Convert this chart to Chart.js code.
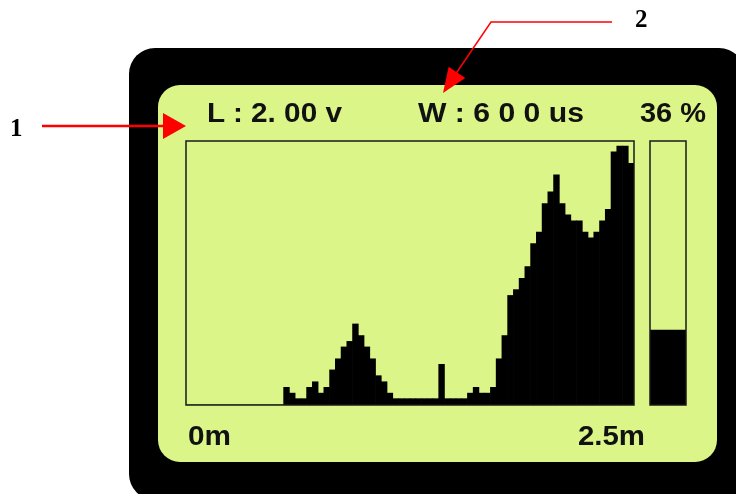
<!DOCTYPE html>
<html>
<head>
<meta charset="utf-8">
<script src="https://cdn.jsdelivr.net/npm/chart.js@4"></script>
<style>
  html, body { margin:0; padding:0; background:#fff; }
  #wrap { position:relative; width:736px; height:494px; overflow:hidden; background:#fff; }
  #frame { position:absolute; left:129px; top:48px; width:616px; height:452px; background:#000; border-radius:26px; }
  #screen { position:absolute; left:158px; top:85px; width:559px; height:377px; background:#dcf588; border-radius:22px; }
  #hist { position:absolute; left:184px; top:139px; }
  #level { position:absolute; left:648px; top:139px; }
  #overlay { position:absolute; left:0; top:0; }
</style>
</head>
<body>
<div id="wrap">
  <div id="frame"></div>
  <div id="screen"></div>
  <canvas id="hist" width="452" height="268"></canvas>
  <canvas id="level" width="40" height="268"></canvas>
  <svg id="overlay" width="736" height="494" xmlns="http://www.w3.org/2000/svg"></svg>
</div>
<script>
// ---- data ----
const bins = Array.from({length: 78}, (_, i) => String(i)); // histogram bins (0m .. 2.5m)
const histValues = [
  0,0,0,0,0,0,0,0,0,0,0,0,0,0,0,0,0,
  6.7,4.5,2.4,2.4,6.7,8.8,4.5,6.7,13.3,17.5,22,24.1,30.7,26.3,22,17.5,11.1,8.8,4.5,
  2.4,2.4,2.4,2.4,2.4,2.4,2.4,2.4,
  15.4,
  2.4,2.4,2.4,2.4,
  4.5,6.7,4.5,4.5,6.7,17.5,26.3,41.5,43.7,48,52.4,61.1,65.5,76.3,80.7,87.2,76.3,72,69.8,69.8,65.5,63.3,65.5,69.8,74.1,95.9,98.1,98.1,91.5
];
const levelLabel = ["level"];
const levelValue = [28.4];
const headerTexts = ["L : 2. 00 v", "W : 6 0 0 us", "36 %"];
const xTickLabels = ["0m", "2.5m"];
const calloutLabels = ["1", "2"];

// ---- plot border plugin ----
const borderPlugin = {
  id: 'plotBorder',
  afterDatasetsDraw(chart) {
    const a = chart.chartArea, ctx = chart.ctx;
    ctx.save();
    ctx.strokeStyle = '#1a1a1a';
    ctx.lineWidth = 1.5;
    ctx.strokeRect(a.left, a.top, a.right - a.left, a.bottom - a.top);
    ctx.restore();
  }
};

const commonOpts = {
  responsive: false,
  animation: false,
  devicePixelRatio: 1,
  layout: { padding: 2 },
  plugins: { legend: { display: false }, tooltip: { enabled: false }, title: { display: false } },
  scales: {
    x: { display: false, grid: { display: false } },
    y: { display: false, min: 0, max: 100, grid: { display: false } }
  }
};

new Chart(document.getElementById('hist'), {
  type: 'bar',
  data: {
    labels: bins,
    datasets: [{ data: histValues, backgroundColor: '#000', borderWidth: 0,
      barPercentage: 1, categoryPercentage: 1 }]
  },
  options: commonOpts,
  plugins: [borderPlugin]
});

new Chart(document.getElementById('level'), {
  type: 'bar',
  data: {
    labels: levelLabel,
    datasets: [{ data: levelValue, backgroundColor: '#000', borderWidth: 0,
      barPercentage: 1, categoryPercentage: 1 }]
  },
  options: commonOpts,
  plugins: [borderPlugin]
});

// ---- overlay: texts and callout arrows ----
const svg = document.getElementById('overlay');
const NS = 'http://www.w3.org/2000/svg';
function el(name, attrs, text) {
  const e = document.createElementNS(NS, name);
  for (const k in attrs) e.setAttribute(k, attrs[k]);
  if (text !== undefined) e.textContent = text;
  svg.appendChild(e);
  return e;
}
const sans = "'Liberation Sans', Arial, sans-serif";
const serif = "'Liberation Serif', 'Times New Roman', serif";
const hdr = [[207, 135], [418, 166], [640, 66]];
headerTexts.forEach((t, i) => {
  el('text', { x: hdr[i][0], y: 122, 'font-family': sans, 'font-weight': 'bold', 'font-size': 27,
    fill: '#111', textLength: hdr[i][1], lengthAdjust: 'spacingAndGlyphs', 'xml:space': 'preserve' }, t);
});
const ticks = [[188, 43], [578, 67]];
xTickLabels.forEach((t, i) => {
  el('text', { x: ticks[i][0], y: 445, 'font-family': sans, 'font-weight': 'bold', 'font-size': 27,
    fill: '#111', textLength: ticks[i][1], lengthAdjust: 'spacingAndGlyphs' }, t);
});
// callout 1
el('line', { x1: 42, y1: 126, x2: 166, y2: 126, stroke: '#ff0000', 'stroke-width': 2.5 });
el('polygon', { points: '186,126 163,113 163,139', fill: '#ff0000' });
el('text', { x: 10, y: 136, 'font-family': serif, 'font-weight': 'bold', 'font-size': 25, fill: '#000' }, calloutLabels[0]);
// callout 2
el('polyline', { points: '612,22 491,22 455,75', fill: 'none', stroke: '#ff0000', 'stroke-width': 1.5 });
el('polygon', { points: '443,93 448.7,66.7 465.3,77.9', fill: '#ff0000' });
el('text', { x: 635, y: 27, 'font-family': serif, 'font-weight': 'bold', 'font-size': 25, fill: '#000' }, calloutLabels[1]);
</script>
</body>
</html>
